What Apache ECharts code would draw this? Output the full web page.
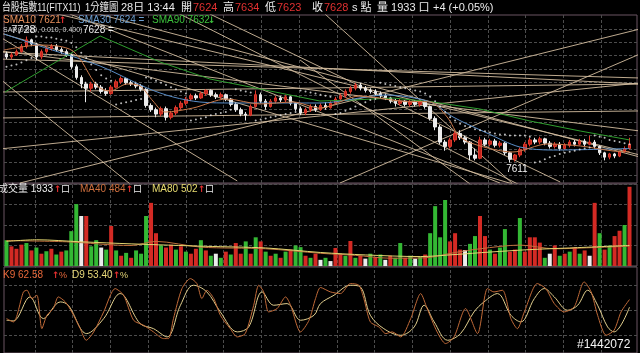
<!DOCTYPE html>
<html>
<head>
<meta charset="utf-8">
<title>台股指數11(FITX11) 1分鐘圖</title>
<script src="https://cdn.jsdelivr.net/npm/echarts@6/dist/echarts.min.js"></script>
<style>
  html, body { margin: 0; padding: 0; background: #000; }
  #chart { width: 640px; height: 353px; }
</style>
</head>
<body>
<div id="chart"></div>
<script>
// one bar per slot: [open, close, low, high]
const candles = [
  [7712,7709,7707,7714],[7709,7711,7707,7713],[7711,7714,7710,7716],[7714,7719,7713,7721],
  [7719,7725,7717,7728],[7725,7721,7719,7726],[7721,7709,7706,7722],[7709,7714,7707,7716],
  [7714,7717,7712,7719],[7717,7719,7715,7721],[7719,7716,7714,7721],[7716,7714,7712,7718],
  [7714,7711,7709,7716],[7711,7700,7698,7712],[7700,7690,7688,7702],[7690,7684,7680,7692],
  [7684,7680,7667,7686],[7680,7684,7677,7686],[7684,7681,7679,7686],[7681,7677,7675,7683],
  [7677,7675,7673,7680],[7675,7681,7674,7683],[7681,7686,7680,7688],[7686,7689,7684,7691],
  [7689,7685,7683,7690],[7685,7684,7682,7687],[7684,7682,7680,7686],[7682,7679,7677,7684],
  [7679,7664,7662,7680],[7664,7660,7658,7666],[7660,7656,7653,7662],[7656,7661,7654,7663],
  [7661,7653,7650,7663],[7653,7657,7651,7659],[7657,7662,7655,7664],[7662,7666,7660,7668],
  [7666,7670,7664,7672],[7670,7673,7668,7675],[7673,7671,7669,7675],[7671,7675,7670,7677],
  [7675,7678,7673,7679],[7678,7674,7672,7679],[7674,7672,7670,7676],[7672,7674,7670,7676],
  [7674,7670,7668,7675],[7670,7665,7663,7671],[7665,7660,7658,7667],[7660,7656,7654,7662],
  [7656,7655,7650,7658],[7655,7663,7654,7665],[7663,7674,7662,7678],[7674,7668,7666,7676],
  [7668,7663,7660,7670],[7663,7668,7662,7670],[7668,7671,7666,7673],[7671,7669,7667,7673],
  [7669,7672,7667,7674],[7672,7666,7664,7673],[7666,7661,7659,7667],[7661,7657,7655,7663],
  [7657,7660,7655,7662],[7660,7663,7658,7665],[7663,7660,7658,7665],[7660,7664,7659,7666],
  [7664,7662,7660,7667],[7662,7666,7661,7668],[7666,7670,7665,7672],[7670,7673,7668,7675],
  [7673,7677,7671,7679],[7677,7680,7675,7682],[7680,7683,7678,7685],[7683,7680,7678,7685],
  [7680,7678,7676,7682],[7678,7677,7675,7680],[7677,7675,7673,7679],[7675,7673,7671,7677],
  [7673,7671,7669,7675],[7671,7668,7666,7672],[7668,7666,7663,7670],[7666,7668,7664,7670],
  [7668,7665,7663,7669],[7665,7667,7663,7669],[7667,7665,7663,7669],[7665,7667,7663,7669],
  [7667,7663,7661,7669],[7663,7652,7650,7664],[7652,7644,7641,7654],[7644,7630,7628,7646],
  [7630,7626,7622,7632],[7626,7632,7624,7634],[7632,7638,7630,7640],[7638,7634,7632,7641],
  [7634,7630,7628,7636],[7630,7618,7613,7631],[7618,7615,7613,7624],[7615,7632,7614,7635],
  [7632,7628,7626,7634],[7628,7631,7626,7633],[7631,7627,7625,7633],[7627,7629,7625,7631],
  [7629,7620,7618,7630],[7620,7614,7611,7621],[7614,7618,7612,7619],[7618,7623,7616,7625],
  [7623,7628,7621,7630],[7628,7632,7626,7634],[7632,7630,7628,7634],[7630,7633,7628,7635],
  [7633,7629,7627,7634],[7629,7626,7624,7631],[7626,7628,7624,7630],[7628,7624,7622,7630],
  [7624,7627,7623,7629],[7627,7630,7625,7632],[7630,7628,7626,7632],[7628,7631,7627,7633],
  [7631,7628,7626,7633],[7628,7630,7627,7636],[7630,7626,7624,7632],[7626,7620,7618,7627],
  [7620,7616,7613,7621],[7616,7619,7614,7620],[7619,7617,7615,7620],[7617,7621,7616,7622],
  [7621,7624,7620,7626],[7624,7628,7623,7634]
];

// parabolic SAR, one dot per bar
const sar = [
  7700,7701,7702,7704,7706,7708,
  7728,7728,7727,7727,7726,7725,7724,7722,7718,7713,7708,7702,7697,7692,7689,7687,
  7665,7666,7667,7668,7669,7670,
  7690,7689,7687,7685,7683,7681,7679,7677,7675,
  7650,7651,7652,7653,7655,7656,7657,7658,7660,
  7679,7678,7677,7676,
  7650,7651,7652,7653,7654,7655,7656,7657,7658,
  7678,7677,7676,7675,7674,7673,7672,
  7656,7657,7659,7661,7663,7665,7667,7669,7670,
  7685,7684,7683,7682,7681,7680,7679,7678,7677,7675,7672,7668,7663,7658,7653,7650,
  7647,7645,7644,7642,7641,7640,7639,7638,7637,7637,7636,7636,7636,7636,7635,
  7611,7612,7614,7616,7617,7619,7620,7621,7622,7623,7624,7625,
  7636,7635,7634,7632,7631,7630,7629,7628
];

// moving averages: [bar, price]
const sma10 = [[-0.5,7715.5],[6.7,7720.1],[13.3,7714.6],[18.2,7682.1],[20.8,7677.4],[24.2,7683.9],
  [26.8,7682.1],[29.4,7668.1],[31.8,7657.9],[37.4,7661.6],[44.2,7670.0],[50.9,7665.4],[57.5,7667.2],
  [62.9,7661.6],[70.9,7672.8],[79.0,7668.1],[85.0,7667.2],[88.4,7653.3],[91.0,7634.7],[95.0,7626.4],
  [101.6,7620.8],[108.5,7628.2],[115.1,7626.4],[121.7,7621.7],[125,7621]];
const sma30 = [[-0.5,7730.4],[6.1,7720.1],[18.8,7700.6],[28.2,7680.2],[33.4,7671.9],[38.8,7667.2],
  [45.4,7666.3],[62.9,7666.3],[76.3,7673.7],[85.0,7667.2],[89.6,7653.3],[96.4,7638.4],[103.0,7625.4],
  [109.7,7622.6],[125,7624]];
const sma90 = [[-0.3,7676.5],[18.8,7728.5],[30.8,7704.4],[40.8,7688.6],[50.9,7679.3],[62.9,7668.1],
  [69.5,7669.1],[77.6,7670.9],[85.6,7667.2],[95.0,7660.7],[105.0,7649.6],[115.1,7640.3],[125,7632]];

// hand drawn trend lines: [bar1, price1, bar2, price2]
const trendLines = [
  [-1.3,7773.1,127.1,7616.1],[-1.3,7761.9,127.1,7618.0],[12.7,7748.9,99.0,7592.0],
  [40.8,7748.9,111.1,7592.9],[29.2,7761.9,103.0,7590.1],[63.9,7748.9,101.4,7592.0],
  [58.9,7706.2,93.0,7591.1],[-1.3,7688.6,24.8,7591.1],[-1.3,7727.6,46.3,7593.9],
  [-1.3,7623.6,127.1,7684.9],[2.7,7592.0,127.1,7735.0],[66.9,7592.0,127.1,7711.8],
  [-1.3,7707.1,127.1,7689.5],[-1.3,7676.5,127.1,7683.9],[-1.3,7652.4,127.1,7658.9],
  [-1.3,7713.6,127.1,7683.9],[-1.3,7731.3,105.0,7586.4],[-1.3,7714.6,127.1,7640.3]
];

const volumes = [
  630,480,420,520,560,380,450,300,360,420,280,350,380,850,1510,1220,1220,480,630,450,
  400,975,380,250,320,200,380,300,1220,1540,800,500,450,520,400,480,350,300,420,630,
  380,250,300,200,350,280,560,300,600,300,700,600,350,250,300,200,350,400,500,460,
  250,200,300,150,200,120,440,300,250,610,200,250,180,300,220,280,150,250,200,560,
  200,250,180,220,280,800,1460,700,1610,600,800,400,390,540,730,1220,730,400,300,450,
  900,350,400,1170,350,700,700,570,200,300,500,250,300,350,460,300,380,250,1540,800,
  400,500,730,860,1000,1933
];
const volColors = (
  'grrrgrgrgrgrggg' + 'wrggwgrgrgrgggr' + 'rgrrgrgrrgrgwgr' + 'grrgrgrgrgrgrgg' +
  'rgrwgwrrgrgrwgr' + 'gwrggrgwgrggggr' + 'rrwggrrgrggrrgr' + 'rrrgwrgrgrgrwrg' +
  'rgrrgr'
).split('');
const volMa40 = [[0,620],[12,590],[25,500],[30,600],[39,460],[52,420],[63,310],[70,260],[77,190],
  [84,200],[90,330],[95,420],[103,510],[110,420],[118,450],[125,484]];
const volMa80 = [[0,600],[6,640],[15,590],[25,540],[40,480],[52,440],[63,330],[72,270],[83,230],
  [90,280],[97,340],[105,400],[113,440],[125,502]];

// KD(9): [bar, value]
const kLine = [[0,39.7],[1.4,35.7],[3.4,71.7],[4.1,73.7],[5.1,63.7],[6.1,67.7],[7.1,27.6],[8.1,43.7],
  [9.4,51.7],[10.4,65.7],[11.8,59.7],[13.1,47.7],[14.8,27.6],[16.0,13.7],[17.5,23.7],[19.5,47.7],
  [21.8,75.7],[23.5,67.7],[25.5,37.7],[27.5,31.7],[29.5,23.7],[31.5,15.7],[32.5,15.7],[33.5,39.7],
  [35.2,75.7],[36.9,87.7],[38.2,81.7],[39.2,63.7],[40.2,73.7],[41.6,63.7],[42.9,43.7],[44.9,27.6],
  [46.3,17.7],[47.9,21.7],[49.6,55.7],[50.6,79.7],[51.6,71.7],[52.6,47.7],[54.3,51.7],[56.0,65.7],
  [57.0,55.7],[59.0,23.7],[60.7,37.7],[62.0,63.7],[63.0,77.0],[65.0,71.7],[67.0,69.7],[69.0,81.7],
  [70.7,79.7],[71.7,63.7],[73.0,35.7],[74.7,29.7],[76.1,21.7],[77.4,23.7],[79.1,17.7],[81.1,39.7],
  [83.1,69.7],[84.4,51.7],[86.4,23.7],[88.1,9.7],[89.8,17.7],[92.1,51.7],[94.5,21.7],[96.5,75.7],
  [97.8,71.7],[99.5,73.7],[101.2,39.7],[102.5,27.6],[103.9,47.7],[106.5,81.7],[108.2,75.7],
  [109.9,57.7],[111.9,47.7],[113.9,53.7],[115.9,83.7],[117.3,71.7],[118.6,43.7],[120.3,19.7],
  [121.9,25.7],[123.3,47.7],[125,62.58]];
const dLine = [[0,37.7],[1.4,37.0],[4.7,65.7],[7.4,39.7],[10.8,59.7],[12.4,55.7],[16.1,21.7],
  [19.5,39.7],[22.8,69.7],[26.8,33.7],[29.5,27.6],[32.2,17.7],[34.9,55.7],[37.5,79.7],[40.2,71.7],
  [42.9,47.7],[46.3,23.7],[48.6,29.7],[51.3,71.7],[53.6,55.7],[56.3,57.7],[59.0,37.7],[61.7,43.7],
  [63.0,57.7],[65.7,67.7],[69.0,79.7],[71.0,77.7],[73.0,43.7],[75.7,27.6],[79.1,19.7],[81.8,29.7],
  [83.8,55.7],[85.8,35.7],[88.5,13.7],[91.1,21.7],[93.8,47.7],[95.8,59.7],[98.5,69.7],[101.2,43.7],
  [103.2,35.7],[105.9,63.7],[107.9,75.7],[109.9,65.7],[112.6,49.7],[114.6,55.7],[116.6,73.7],
  [118.6,55.7],[120.6,29.7],[121.9,23.7],[125,53.4]];

const slots = Array.from({ length: 127 }, (_, i) => i);

const RED = '#d42a24', WHITE = '#ececec', GREEN = '#34b834';
const volPalette = { r: RED, g: GREEN, w: WHITE };
const FONT = '"Liberation Sans", "Noto Sans CJK TC", sans-serif';
const ARROW_FONT = '"DejaVu Sans", sans-serif';
const BORDER = '#6b5562';
const dash = { show: true, lineStyle: { color: '#4c4c4c', type: [3, 2], width: 1 } };

function txt(x, y, s, color, size, sx, family) {
  return { type: 'text', x: x, y: y, silent: true, z: 100, scaleX: sx || 1,
    style: { text: s, fill: color, font: 'bold ' + size + 'px ' + (family || FONT), verticalAlign: 'middle' } };
}
function plain(x, y, s, color, size, sx) {
  const t = txt(x, y, s, color, size, sx);
  t.style.font = size + 'px ' + FONT;
  return t;
}
function arrow(x, y, s, color) {
  return txt(x, y, s, color, 9, 1, ARROW_FONT);
}

// highest high / lowest low labels
let hiIdx = 0, loIdx = 0;
candles.forEach((c, i) => {
  if (c[3] > candles[hiIdx][3]) hiIdx = i;
  if (c[2] < candles[loIdx][2]) loIdx = i;
});

const chart = echarts.init(document.getElementById('chart'));

const hidden = { show: false };
const splitOnly = { axisLine: hidden, axisTick: hidden, axisLabel: hidden, splitLine: dash };

const lineSeries = trendLines.map(t => ({
  type: 'line', xAxisIndex: 1, yAxisIndex: 0, z: 1, silent: true,
  showSymbol: false, data: [[t[0], t[1]], [t[2], t[3]]],
  lineStyle: { color: '#d3bd9e', width: 1, opacity: 0.9 }
}));

const option = {
  backgroundColor: '#000',
  animation: false,
  grid: [
    { left: 4, width: 633, top: 15, height: 168, show: true, borderColor: BORDER, borderWidth: 1 },
    { left: 4, width: 633, top: 184, height: 82, show: true, borderColor: BORDER, borderWidth: 1 },
    { left: 4, width: 633, top: 267, height: 86, show: true, borderColor: BORDER, borderWidth: 1 },
    { left: 35, width: 566, top: 15, height: 338 },
    { left: 4, width: 633, top: 29, height: 146.67 },
    { left: 4, width: 633, top: 285, height: 50 }
  ],
  xAxis: [
    { type: 'category', gridIndex: 0, data: slots, show: false },
    { type: 'value', gridIndex: 0, min: -0.5, max: 126.5, show: false },
    { type: 'category', gridIndex: 1, data: slots, show: false },
    { type: 'value', gridIndex: 1, min: -0.5, max: 126.5, show: false },
    { type: 'value', gridIndex: 2, min: -0.5, max: 126.5, show: false },
    Object.assign({ type: 'value', gridIndex: 3, min: 0, max: 15, interval: 1 }, splitOnly),
    { type: 'value', gridIndex: 4, min: 0, max: 1, show: false },
    { type: 'value', gridIndex: 5, min: 0, max: 1, show: false }
  ],
  yAxis: [
    { type: 'value', gridIndex: 0, min: 7592, max: 7748, show: false },
    Object.assign({ type: 'value', gridIndex: 1, min: 0, max: 2000, interval: 500 }, splitOnly),
    { type: 'value', gridIndex: 2, min: -1.6, max: 101.6, show: false },
    { type: 'value', gridIndex: 3, min: 0, max: 1, show: false },
    Object.assign({ type: 'value', gridIndex: 4, min: 0, max: 11, interval: 1 }, splitOnly),
    Object.assign({ type: 'value', gridIndex: 5, min: 0, max: 2, interval: 1 }, splitOnly)
  ],
  series: lineSeries.concat([
    {
      type: 'candlestick', xAxisIndex: 0, yAxisIndex: 0, z: 3,
      data: candles, barWidth: 3,
      itemStyle: { color: '#c0241e', color0: WHITE, borderColor: '#e03a2c', borderColor0: WHITE, borderWidth: 1 },
      markPoint: {
        symbol: 'circle', symbolSize: 0, silent: true,
        label: { show: true, color: '#f0f0f0', fontFamily: FONT, formatter: '{c}' },
        data: [
          { coord: [hiIdx, candles[hiIdx][3]], value: candles[hiIdx][3],
            label: { position: 'top', distance: 1, fontSize: 11, offset: [-3, 0] } },
          { coord: [loIdx, candles[loIdx][2]], value: candles[loIdx][2],
            label: { position: 'bottom', distance: 2, fontSize: 10, offset: [7, 0] } }
        ]
      }
    },
    { type: 'line', xAxisIndex: 1, yAxisIndex: 0, z: 4, showSymbol: false, data: sma90,
      lineStyle: { color: '#2f9e2f', width: 1 } },
    { type: 'line', xAxisIndex: 1, yAxisIndex: 0, z: 4, showSymbol: false, data: sma30, smooth: 0.3,
      lineStyle: { color: '#5a8ec8', width: 1 } },
    { type: 'line', xAxisIndex: 1, yAxisIndex: 0, z: 4, showSymbol: false, data: sma10, smooth: 0.3,
      lineStyle: { color: '#c8784a', width: 1 } },
    { type: 'scatter', xAxisIndex: 0, yAxisIndex: 0, z: 5, symbolSize: 2,
      data: sar.map((p, i) => [i, p]), itemStyle: { color: '#e6e6e6' } },
    {
      type: 'bar', xAxisIndex: 2, yAxisIndex: 1, z: 3, barWidth: 4,
      data: volumes.map((v, i) => ({ value: v, itemStyle: { color: volPalette[volColors[i]] } }))
    },
    { type: 'line', xAxisIndex: 3, yAxisIndex: 1, z: 4, showSymbol: false, data: volMa40, smooth: 0.3,
      lineStyle: { color: '#c0703c', width: 1 } },
    { type: 'line', xAxisIndex: 3, yAxisIndex: 1, z: 4, showSymbol: false, data: volMa80, smooth: 0.3,
      lineStyle: { color: '#e2d670', width: 1 } },
    { type: 'line', xAxisIndex: 4, yAxisIndex: 2, z: 4, showSymbol: false, data: dLine, smooth: 0.35,
      lineStyle: { color: '#e2cf8e', width: 1 } },
    { type: 'line', xAxisIndex: 4, yAxisIndex: 2, z: 4, showSymbol: false, data: kLine, smooth: 0.25,
      lineStyle: { color: '#c06a38', width: 1 } }
  ]),
  graphic: [
    // header
    plain(2, 7.5, '台股指數11(FITX11)', WHITE, 11, 0.8),
    plain(85, 7.5, '1分鐘圖', WHITE, 11, 0.85),
    plain(121, 7.5, '28日 13:44', WHITE, 11),
    plain(181, 7.5, '開', WHITE, 11), plain(193, 7.5, '7624', '#e03030', 11),
    plain(223, 7.5, '高', WHITE, 11), plain(235, 7.5, '7634', '#e03030', 11),
    plain(265, 7.5, '低', WHITE, 11), plain(277, 7.5, '7623', '#e03030', 11),
    plain(312, 7.5, '收', WHITE, 11), plain(324, 7.5, '7628', '#e03030', 11),
    plain(352, 7.5, 's 點', WHITE, 11),
    plain(377, 7.5, '量 1933 口', WHITE, 11),
    plain(433, 7.5, '+4 (+0.05%)', WHITE, 11),
    // price legend
    plain(3, 20.5, 'SMA10 7621', '#e8905c', 10), arrow(59, 20.5, '↑', '#e83030'),
    plain(78, 20.5, 'SMA30 7624 =', '#6c9ed0', 10),
    plain(152, 20.5, 'SMA90 7632', '#3cc03c', 10), arrow(208, 20.5, '↓', '#3cc03c'),
    plain(3, 30, 'SAR(0.020, 0.010, 0.400)', '#d0d0d0', 7),
    plain(83, 30, '7628 =', WHITE, 10),
    // volume legend
    plain(-2, 189.5, '成交量 1933', WHITE, 10), arrow(54, 189.5, '↑', '#e83030'), plain(61, 189.5, '口', WHITE, 9),
    plain(80, 189.5, 'MA40 484', '#d0703e', 10), arrow(126, 189.5, '↑', '#e83030'), plain(133, 189.5, '口', WHITE, 9),
    plain(152, 189.5, 'MA80 502', '#e8dc70', 10), arrow(198, 189.5, '↑', '#e83030'), plain(205, 189.5, '口', WHITE, 9),
    // KD legend
    plain(3, 275.5, 'K9 62.58', '#e8683a', 10), arrow(52, 275.5, '↑', '#e83030'), plain(59, 275.5, '%', '#e8683a', 9),
    plain(72, 275.5, 'D9 53.40', '#e8d878', 10), arrow(113, 275.5, '↑', '#e83030'), plain(120, 275.5, '%', '#e8d878', 9),
    // watermark
    plain(577, 344.5, '#1442072', '#f4f4f4', 12)
  ]
};

chart.setOption(option);
</script>
</body>
</html>
